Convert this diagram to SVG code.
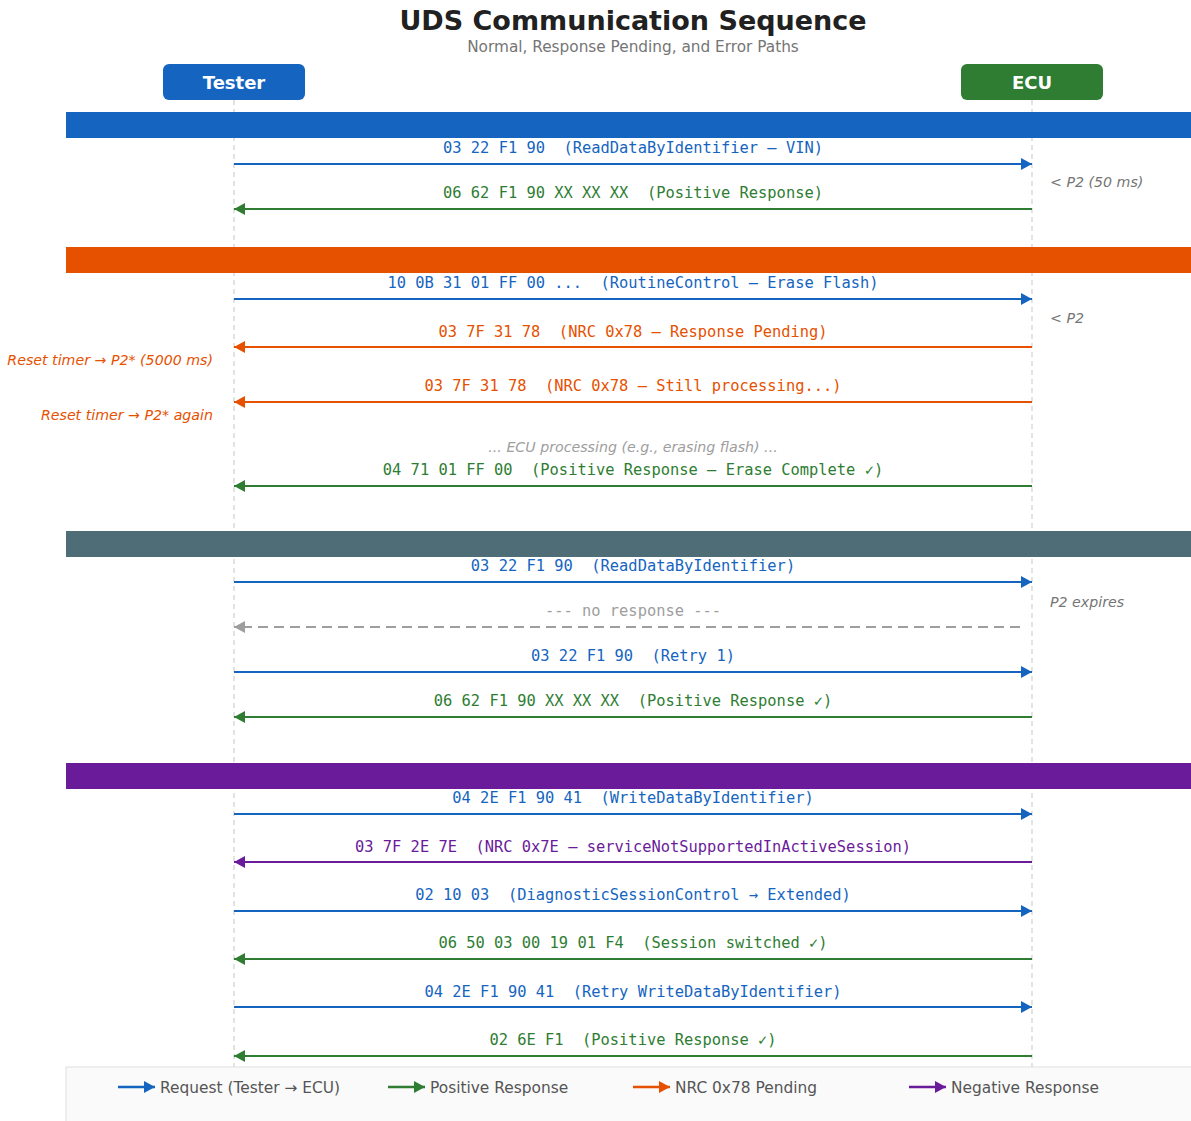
<svg xmlns="http://www.w3.org/2000/svg" width="1191" height="1121" viewBox="0 0 1191 1121">
  <defs>
    <style>
      .title { font-family: "DejaVu Sans", "Liberation Sans", sans-serif; font-weight: bold; font-size: 27px; fill: #212121; }
      .subtitle { font-family: "DejaVu Sans", "Liberation Sans", sans-serif; font-size: 15.3px; fill: #757575; }
      .actor { font-family: "DejaVu Sans", "Liberation Sans", sans-serif; font-weight: bold; font-size: 18px; fill: #ffffff; }
      .msg { font-family: "DejaVu Sans Mono", "Liberation Mono", monospace; font-size: 15.4px; text-anchor: middle; }
      .note { font-family: "DejaVu Sans", "Liberation Sans", sans-serif; font-style: italic; font-size: 14.2px; }
      .legend-text { font-family: "DejaVu Sans", "Liberation Sans", sans-serif; font-size: 15.4px; fill: #555555; }
      .lifeline { stroke: #d0d0d0; stroke-width: 1.2; stroke-dasharray: 5 4; fill: none; }
      .line { stroke-width: 2; fill: none; }
      .req { stroke: #1565C0; }
      .pos { stroke: #2E7D32; }
      .nrc { stroke: #E65100; }
      .neg { stroke: #6A1B9A; }
      .none { stroke: #9E9E9E; stroke-dasharray: 10 6; }
      .t-req { fill: #1565C0; }
      .t-pos { fill: #2E7D32; }
      .t-nrc { fill: #E65100; }
      .t-neg { fill: #6A1B9A; }
      .t-gray { fill: #9E9E9E; }
      .t-note { fill: #757575; }
    </style>
    <marker id="ah-req" viewBox="0 0 11 12" refX="11" refY="6" markerWidth="11" markerHeight="12" markerUnits="userSpaceOnUse" orient="auto"><path d="M0,0 L11,6 L0,12 z" fill="#1565C0"/></marker>
    <marker id="ah-pos" viewBox="0 0 11 12" refX="11" refY="6" markerWidth="11" markerHeight="12" markerUnits="userSpaceOnUse" orient="auto"><path d="M0,0 L11,6 L0,12 z" fill="#2E7D32"/></marker>
    <marker id="ah-nrc" viewBox="0 0 11 12" refX="11" refY="6" markerWidth="11" markerHeight="12" markerUnits="userSpaceOnUse" orient="auto"><path d="M0,0 L11,6 L0,12 z" fill="#E65100"/></marker>
    <marker id="ah-neg" viewBox="0 0 11 12" refX="11" refY="6" markerWidth="11" markerHeight="12" markerUnits="userSpaceOnUse" orient="auto"><path d="M0,0 L11,6 L0,12 z" fill="#6A1B9A"/></marker>
    <marker id="ah-gray" viewBox="0 0 11 12" refX="11" refY="6" markerWidth="11" markerHeight="12" markerUnits="userSpaceOnUse" orient="auto"><path d="M0,0 L11,6 L0,12 z" fill="#9E9E9E"/></marker>
    <marker id="lg" viewBox="0 0 9 10" refX="9" refY="5" markerWidth="9" markerHeight="10" markerUnits="userSpaceOnUse" orient="auto"><path d="M0,0 L9,5 L0,10 z" fill="context-stroke"/></marker>
  </defs>

  <rect width="1191" height="1121" fill="#ffffff"/>

  <!-- Heading -->
  <text class="title" x="633" y="30" text-anchor="middle">UDS Communication Sequence</text>
  <text class="subtitle" x="633" y="52" text-anchor="middle">Normal, Response Pending, and Error Paths</text>

  <!-- Lifelines -->
  <g id="lifelines">
    <line class="lifeline" x1="234" y1="100" x2="234" y2="1067"/>
    <line class="lifeline" x1="1032" y1="100" x2="1032" y2="1067"/>
  </g>

  <!-- Participants -->
  <g id="tester">
    <rect x="163" y="64" width="142" height="36" rx="6" fill="#1565C0"/>
    <text class="actor" x="234" y="89" text-anchor="middle">Tester</text>
  </g>
  <g id="ecu">
    <rect x="961" y="64" width="142" height="36" rx="6" fill="#2E7D32"/>
    <text class="actor" x="1032" y="89" text-anchor="middle">ECU</text>
  </g>

  <!-- Section bands -->
  <g id="sections">
    <rect id="section-normal" x="66" y="112" width="1130" height="26" fill="#1565C0"/>
    <rect id="section-pending" x="66" y="247" width="1130" height="26" fill="#E65100"/>
    <rect id="section-timeout" x="66" y="531" width="1130" height="26" fill="#4F6D77"/>
    <rect id="section-session" x="66" y="763" width="1130" height="26" fill="#6A1B9A"/>
  </g>

  <!-- Messages -->
  <g id="connectors">
    <!-- Normal request / response -->
    <line class="line req" x1="234" y1="164" x2="1032" y2="164" marker-end="url(#ah-req)"/>
    <line class="line pos" x1="1032" y1="209" x2="234" y2="209" marker-end="url(#ah-pos)"/>

    <!-- Response pending -->
    <line class="line req" x1="234" y1="299" x2="1032" y2="299" marker-end="url(#ah-req)"/>
    <line class="line nrc" x1="1032" y1="347" x2="234" y2="347" marker-end="url(#ah-nrc)"/>
    <line class="line nrc" x1="1032" y1="402" x2="234" y2="402" marker-end="url(#ah-nrc)"/>
    <line class="line pos" x1="1032" y1="486" x2="234" y2="486" marker-end="url(#ah-pos)"/>

    <!-- Timeout and retry -->
    <line class="line req" x1="234" y1="582" x2="1032" y2="582" marker-end="url(#ah-req)"/>
    <line class="line none" x1="1020" y1="627" x2="234" y2="627" marker-end="url(#ah-gray)"/>
    <line class="line req" x1="234" y1="672" x2="1032" y2="672" marker-end="url(#ah-req)"/>
    <line class="line pos" x1="1032" y1="717" x2="234" y2="717" marker-end="url(#ah-pos)"/>

    <!-- Session error path -->
    <line class="line req" x1="234" y1="814" x2="1032" y2="814" marker-end="url(#ah-req)"/>
    <line class="line neg" x1="1032" y1="862" x2="234" y2="862" marker-end="url(#ah-neg)"/>
    <line class="line req" x1="234" y1="911" x2="1032" y2="911" marker-end="url(#ah-req)"/>
    <line class="line pos" x1="1032" y1="959" x2="234" y2="959" marker-end="url(#ah-pos)"/>
    <line class="line req" x1="234" y1="1007" x2="1032" y2="1007" marker-end="url(#ah-req)"/>
    <line class="line pos" x1="1032" y1="1056" x2="234" y2="1056" marker-end="url(#ah-pos)"/>
  </g>

  <!-- Message labels -->
  <g id="labels">
    <text class="msg t-req" x="633" y="153" xml:space="preserve">03 22 F1 90  (ReadDataByIdentifier – VIN)</text>
    <text class="msg t-pos" x="633" y="198" xml:space="preserve">06 62 F1 90 XX XX XX  (Positive Response)</text>

    <text class="msg t-req" x="633" y="288" xml:space="preserve">10 0B 31 01 FF 00 ...  (RoutineControl – Erase Flash)</text>
    <text class="msg t-nrc" x="633" y="337" xml:space="preserve">03 7F 31 78  (NRC 0x78 – Response Pending)</text>
    <text class="msg t-nrc" x="633" y="391" xml:space="preserve">03 7F 31 78  (NRC 0x78 – Still processing...)</text>
    <text class="note t-gray" x="633" y="452" text-anchor="middle">... ECU processing (e.g., erasing flash) ...</text>
    <text class="msg t-pos" x="633" y="475" xml:space="preserve">04 71 01 FF 00  (Positive Response – Erase Complete ✓)</text>

    <text class="msg t-req" x="633" y="571" xml:space="preserve">03 22 F1 90  (ReadDataByIdentifier)</text>
    <text class="msg t-gray" x="633" y="616" xml:space="preserve">--- no response ---</text>
    <text class="msg t-req" x="633" y="661" xml:space="preserve">03 22 F1 90  (Retry 1)</text>
    <text class="msg t-pos" x="633" y="706" xml:space="preserve">06 62 F1 90 XX XX XX  (Positive Response ✓)</text>

    <text class="msg t-req" x="633" y="803" xml:space="preserve">04 2E F1 90 41  (WriteDataByIdentifier)</text>
    <text class="msg t-neg" x="633" y="852" xml:space="preserve">03 7F 2E 7E  (NRC 0x7E – serviceNotSupportedInActiveSession)</text>
    <text class="msg t-req" x="633" y="900" xml:space="preserve">02 10 03  (DiagnosticSessionControl → Extended)</text>
    <text class="msg t-pos" x="633" y="948" xml:space="preserve">06 50 03 00 19 01 F4  (Session switched ✓)</text>
    <text class="msg t-req" x="633" y="997" xml:space="preserve">04 2E F1 90 41  (Retry WriteDataByIdentifier)</text>
    <text class="msg t-pos" x="633" y="1045" xml:space="preserve">02 6E F1  (Positive Response ✓)</text>
  </g>

  <!-- Timing notes -->
  <g id="notes">
    <text class="note t-note" x="1050" y="187">&lt; P2 (50 ms)</text>
    <text class="note t-note" x="1050" y="323">&lt; P2</text>
    <text class="note t-nrc" x="213" y="365" text-anchor="end">Reset timer → P2* (5000 ms)</text>
    <text class="note t-nrc" x="213" y="420" text-anchor="end">Reset timer → P2* again</text>
    <text class="note t-note" x="1050" y="607">P2 expires</text>
  </g>

  <!-- Legend -->
  <g id="legend">
    <rect x="66" y="1067" width="1140" height="70" fill="#FAFAFA" stroke="#E0E0E0" stroke-width="1"/>
    <line x1="118" y1="1087" x2="155" y2="1087" stroke="#1565C0" stroke-width="2.5" marker-end="url(#ah-req)"/>
    <text class="legend-text" x="160" y="1093">Request (Tester → ECU)</text>
    <line x1="388" y1="1087" x2="425" y2="1087" stroke="#2E7D32" stroke-width="2.5" marker-end="url(#ah-pos)"/>
    <text class="legend-text" x="430" y="1093">Positive Response</text>
    <line x1="633" y1="1087" x2="670" y2="1087" stroke="#E65100" stroke-width="2.5" marker-end="url(#ah-nrc)"/>
    <text class="legend-text" x="675" y="1093">NRC 0x78 Pending</text>
    <line x1="909" y1="1087" x2="946" y2="1087" stroke="#6A1B9A" stroke-width="2.5" marker-end="url(#ah-neg)"/>
    <text class="legend-text" x="951" y="1093">Negative Response</text>
  </g>
</svg>
